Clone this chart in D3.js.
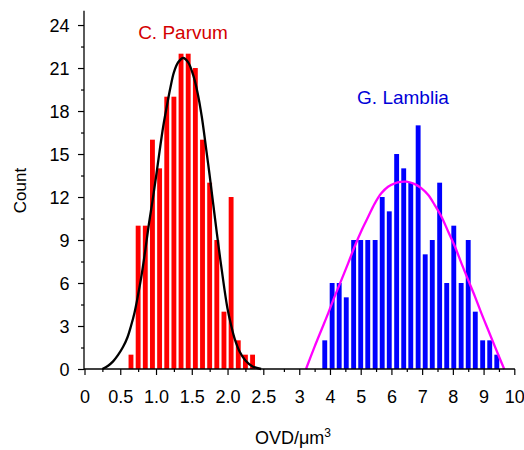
<!DOCTYPE html>
<html>
<head>
<meta charset="utf-8">
<script src="https://cdn.jsdelivr.net/npm/d3@7/dist/d3.min.js"></script>
<style>
  html, body { margin: 0; padding: 0; background: #fff; }
  svg { display: block; }
  text { font-family: "Liberation Sans", Arial, sans-serif; }
</style>
</head>
<body>
<svg id="chart" width="524" height="450"></svg>
<script>
// Histogram bin centres and counts (OVD in µm³)
const parvumBins = [0.65, 0.75, 0.85, 0.95, 1.05, 1.15, 1.25, 1.35, 1.45, 1.55, 1.65, 1.75, 1.85, 1.95, 2.05, 2.15, 2.25, 2.35];
const parvumCounts = [1, 10, 10, 16, 14, 19, 19, 22, 22, 21, 16, 13, 9, 4, 12, 2, 1, 1];

const lambliaBins = [3.83, 4.07, 4.30, 4.53, 4.77, 5.00, 5.23, 5.47, 5.70, 5.93, 6.17, 6.40, 6.63, 6.87, 7.10, 7.33, 7.57, 7.80, 8.03, 8.27, 8.50, 8.73, 8.97, 9.20, 9.43];
const lambliaCounts = [2, 6, 6, 5, 9, 9, 9, 9, 12, 11, 15, 14, 13, 17, 8, 9, 13, 6, 10, 6, 9, 4, 2, 2, 1];

// Fitted distribution curves (sampled)
const parvumFitX = [0.25, 0.33, 0.40, 0.47, 0.54, 0.60, 0.65, 0.70, 0.75, 0.80, 0.85, 0.90, 0.95, 1.00, 1.05, 1.10, 1.15, 1.20, 1.25, 1.31, 1.38, 1.45, 1.52, 1.58, 1.64, 1.70, 1.75, 1.80, 1.85, 1.90, 1.95, 2.00, 2.05, 2.10, 2.17, 2.25, 2.35, 2.47];
const parvumFitY = [0, 0.23, 0.53, 0.98, 1.55, 2.2, 3.0, 3.95, 5.2, 6.6, 8.3, 10.1, 11.7, 13.4, 15.2, 16.9, 18.3, 19.6, 20.7, 21.4, 21.7, 21.4, 20.5, 19.3, 17.6, 15.4, 13.5, 11.5, 9.5, 7.6, 5.8, 4.2, 3.05, 2.1, 1.2, 0.6, 0.18, 0];

const lambliaFitX = [3.22, 3.50, 3.72, 3.94, 4.15, 4.37, 4.59, 4.80, 5.02, 5.24, 5.46, 5.67, 5.89, 6.11, 6.30, 6.49, 6.76, 6.98, 7.20, 7.41, 7.63, 7.85, 8.07, 8.28, 8.50, 8.72, 8.93, 9.15, 9.37, 9.67];
const lambliaFitY = [0, 1.56, 2.72, 3.88, 5.05, 6.2, 7.37, 8.53, 9.63, 10.6, 11.56, 12.26, 12.72, 12.95, 13.05, 13.07, 12.9, 12.6, 12.14, 11.44, 10.63, 9.58, 8.53, 7.37, 6.2, 5.05, 3.88, 2.72, 1.56, 0];

// Axis ticks
const xLeftMajor = [0, 0.5, 1.0, 1.5, 2.0, 2.5];
const xLeftMinor = [0.25, 0.75, 1.25, 1.75, 2.25];
const xRightMajor = [3, 4, 5, 6, 7, 8, 9, 10];
const xRightMinor = [2.5, 3.5, 4.5, 5.5, 6.5, 7.5, 8.5, 9.5];
const yMajor = [0, 3, 6, 9, 12, 15, 18, 21, 24];
const yMinor = [1.5, 4.5, 7.5, 10.5, 13.5, 16.5, 19.5, 22.5];

const svg = d3.select("#chart");

// Broken x axis: two linear segments
const xLeft = d3.scaleLinear().domain([0, 2.5]).range([84.5, 263.3]);
const xRight = d3.scaleLinear().domain([2.5, 10]).range([283.9, 514.3]);
const x = v => (v <= 2.5 ? xLeft(v) : xRight(v));
const y = d3.scaleLinear().domain([0, 25]).range([369, 10.7]);

const barFrac = 0.68;

// Bars
function drawBars(bins, counts, scale, step, color) {
  const w = (scale(bins[0] + step) - scale(bins[0])) * barFrac;
  svg.append("g").selectAll("rect")
    .data(bins.map((b, i) => ({ b, c: counts[i] })))
    .join("rect")
    .attr("x", d => scale(d.b) - w / 2)
    .attr("width", w)
    .attr("y", d => y(d.c))
    .attr("height", d => y(0) - y(d.c))
    .attr("fill", color);
}
drawBars(parvumBins, parvumCounts, xLeft, 0.1, "#ff0000");
drawBars(lambliaBins, lambliaCounts, xRight, 0.2333, "#0000ff");

// Fit curves
const line = d3.line()
  .x(d => x(d[0]))
  .y(d => y(Math.max(0, d[1])))
  .curve(d3.curveCatmullRom.alpha(0.5));

svg.append("path")
  .datum(parvumFitX.map((v, i) => [v, parvumFitY[i]]))
  .attr("d", line)
  .attr("fill", "none")
  .attr("stroke", "#000")
  .attr("stroke-width", 2.3);

svg.append("path")
  .datum(lambliaFitX.map((v, i) => [v, lambliaFitY[i]]))
  .attr("d", line)
  .attr("fill", "none")
  .attr("stroke", "#ff00ff")
  .attr("stroke-width", 2.3);

// Axes
const y0 = y(0);
const fontSize = "18px";

function styleAxis(g) {
  g.select(".domain").remove();
  g.selectAll(".tick line").attr("stroke", "#000").attr("stroke-width", 1.2);
  g.selectAll(".tick text").attr("fill", "#000").style("font-size", fontSize)
    .style("font-family", '"Liberation Sans", Arial, sans-serif');
}

// x axis, left segment
svg.append("g").attr("transform", `translate(0,${y0})`)
  .call(d3.axisBottom(xLeft).tickValues(xLeftMajor).tickSize(6)
    .tickFormat(d => d === 0 ? "0" : d3.format(".1f")(d)))
  .call(styleAxis)
  .call(g => g.selectAll(".tick text").attr("y", 34.3).attr("dy", null));
svg.append("g").attr("transform", `translate(0,${y0})`)
  .call(d3.axisBottom(xLeft).tickValues(xLeftMinor).tickSize(3).tickFormat(""))
  .call(styleAxis);

// x axis, right segment
svg.append("g").attr("transform", `translate(0,${y0})`)
  .call(d3.axisBottom(xRight).tickValues(xRightMajor).tickSize(6).tickFormat(d3.format("d")))
  .call(styleAxis)
  .call(g => g.selectAll(".tick text").attr("y", 34.3).attr("dy", null));
svg.append("g").attr("transform", `translate(0,${y0})`)
  .call(d3.axisBottom(xRight).tickValues(xRightMinor).tickSize(3).tickFormat(""))
  .call(styleAxis);

// x axis line
svg.append("line")
  .attr("x1", 84).attr("x2", xRight(10) + 0.6)
  .attr("y1", y0).attr("y2", y0)
  .attr("stroke", "#000").attr("stroke-width", 1.3);

// y axis
svg.append("g").attr("transform", "translate(84,0)")
  .call(d3.axisLeft(y).tickValues(yMajor).tickSize(6).tickPadding(8.5))
  .call(styleAxis)
  .call(g => g.selectAll(".tick text").attr("dy", "0.36em"));
svg.append("g").attr("transform", "translate(84,0)")
  .call(d3.axisLeft(y).tickValues(yMinor).tickSize(3).tickFormat(""))
  .call(styleAxis);
svg.append("line")
  .attr("x1", 84).attr("x2", 84)
  .attr("y1", y0 + 0.6).attr("y2", y(25))
  .attr("stroke", "#000").attr("stroke-width", 1.3);

// Axis titles
svg.append("text")
  .attr("transform", "translate(25.5,190.5) rotate(-90)")
  .attr("text-anchor", "middle")
  .style("font-size", "17px")
  .attr("fill", "#000")
  .text("Count");

const xt = svg.append("text")
  .attr("x", 293).attr("y", 444.3)
  .attr("text-anchor", "middle")
  .style("font-size", fontSize)
  .attr("fill", "#000");
xt.append("tspan").text("OVD/\u03bcm");
xt.append("tspan").attr("dy", -7).style("font-size", "12px").text("3");

// Series labels
svg.append("text")
  .attr("x", 183).attr("y", 39.3)
  .attr("text-anchor", "middle")
  .style("font-size", "19px")
  .attr("fill", "#d40000")
  .text("C. Parvum");

svg.append("text")
  .attr("x", 403).attr("y", 104.3)
  .attr("text-anchor", "middle")
  .style("font-size", "19px")
  .attr("fill", "#0000d8")
  .text("G. Lamblia");
</script>
</body>
</html>
